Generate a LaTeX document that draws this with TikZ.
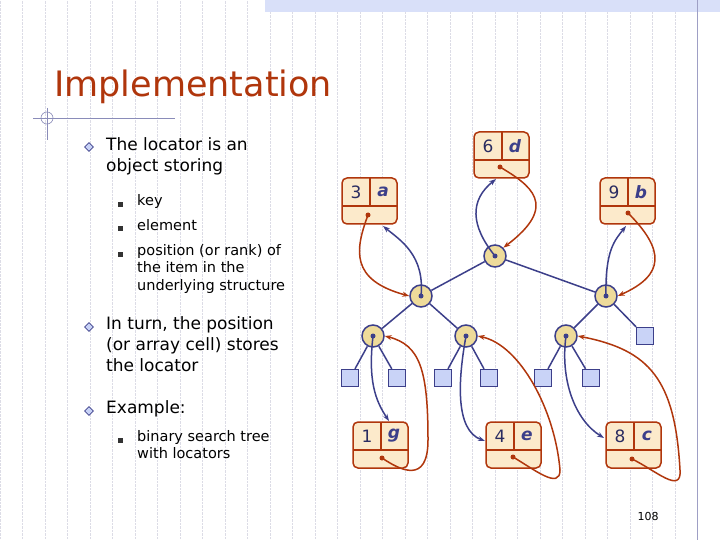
\documentclass[tikz,border=0pt]{standalone}
\usepackage{fontspec}
\setmainfont{DejaVu Sans}
\setsansfont{DejaVu Sans}
\usetikzlibrary{arrows.meta,shapes.geometric}
\definecolor{tblue}{HTML}{3C3F8A}
\definecolor{tred}{HTML}{B0360C}
\definecolor{nfill}{HTML}{EEDB9A}
\definecolor{lfill}{HTML}{FCEACB}
\definecolor{sfill}{HTML}{C9D3F7}
\definecolor{gridc}{HTML}{DCDCE6}
\begin{document}
\begin{tikzpicture}[x=1pt,y=-1pt,
  inode/.style={circle,draw=tblue,line width=1.5pt,fill=nfill,minimum size=22pt,inner sep=0pt},
  leaf/.style={rectangle,draw=tblue,line width=1.3pt,fill=sfill,minimum size=17pt,inner sep=0pt},
  edge/.style={draw=tblue,line width=1.5pt},
  bptr/.style={draw=tblue,line width=1.5pt,-{Stealth[length=7pt,width=5pt]}},
  rptr/.style={draw=tred,line width=1.5pt,-{Stealth[length=7pt,width=5pt]}},
  dot/.style={circle,fill=#1,inner sep=0pt,minimum size=5pt},
  txt/.style={font=\fontsize{17}{21}\selectfont,text=black,align=left,anchor=north west,inner sep=0pt},
  sub/.style={font=\fontsize{14.5}{17.5}\selectfont,text=black,align=left,anchor=north west,inner sep=0pt},
  dia/.style={diamond,draw=tblue,fill=sfill,inner sep=0pt,minimum size=9pt,line width=0.6pt},
  sq/.style={rectangle,fill=black!80,inner sep=0pt,minimum size=5pt}]
\useasboundingbox (0,0) rectangle (720,540);
\fill[white] (0,0) rectangle (720,540);
\draw[gridc,densely dotted,line width=0.4pt,step=22.5] (0,0) grid (720,540);
\fill[sfill!70] (265,0) rectangle (720,12);
\draw[tblue!50,line width=0.8pt] (697,0) -- (697,540);
\draw[tblue!60,line width=0.8pt] (33,118) -- (175,118);
\draw[tblue!60,line width=0.8pt] (47,108) -- (47,140);
\node[circle,draw=tblue!60,line width=0.6pt,minimum size=12pt,inner sep=0pt] (c0) at (47,118) {};
% title
\node[anchor=west,text=tred,font=\fontsize{35}{40}\selectfont,inner sep=0pt] (title) at (54,87) {Implementation};
% left text
\node[dia] (d1) at (89,147) {};
\node[txt] (t1) at (106,137) {The locator is an\\object storing};
\node[sq] (s1) at (120,205) {};
\node[sq] (s2) at (120,229) {};
\node[sq] (s3) at (120,254) {};
\node[sub] (u1) at (137,194) {key};
\node[sub] (u2) at (137,219) {element};
\node[sub] (u3) at (137,244) {position (or rank) of\\the item in the\\underlying structure};
\node[dia] (d2) at (89,327) {};
\node[txt] (t2) at (106,316) {In turn, the position\\(or array cell) stores\\the locator};
\node[dia] (d3) at (89,411) {};
\node[txt] (t3) at (106,400) {Example:};
\node[sq] (s4) at (120,440) {};
\node[sub] (u4) at (137,430) {binary search tree\\with locators};
\node[font=\fontsize{11}{13}\selectfont,inner sep=0pt] (pg) at (648,516) {108};
% tree nodes
\node[inode] (r) at (495,256) {};
\node[inode] (nl) at (421,296) {};
\node[inode] (nr) at (606,296) {};
\node[inode] (a) at (373,336) {};
\node[inode] (b) at (466,336) {};
\node[inode] (c) at (566,336) {};
\node[leaf] (sx) at (645,336) {};
\node[leaf] (l1) at (350,378) {};
\node[leaf] (l2) at (397,378) {};
\node[leaf] (l3) at (443,378) {};
\node[leaf] (l4) at (489,378) {};
\node[leaf] (l5) at (543,378) {};
\node[leaf] (l6) at (591,378) {};
\draw[edge] (r) -- (nl); \draw[edge] (r) -- (nr);
\draw[edge] (nl) -- (a); \draw[edge] (nl) -- (b);
\draw[edge] (nr) -- (c); \draw[edge] (nr) -- (sx);
\draw[edge] (a) -- (l1); \draw[edge] (a) -- (l2);
\draw[edge] (b) -- (l3); \draw[edge] (b) -- (l4);
\draw[edge] (c) -- (l5); \draw[edge] (c) -- (l6);
% locator boxes
\newcommand{\locbox}[4]{%
  \draw[tred,line width=1.5pt,fill=lfill,rounded corners=5pt] (#1,#2) rectangle ++(55,46);
  \draw[tred,line width=1.5pt] (#1,#2+28) -- ++(55,0) (#1+28,#2) -- ++(0,28);
  \node[font=\fontsize{17}{17}\selectfont\rmfamily,text=tblue!70!black] at (#1+14,#2+14) {#3};
  \node[font=\fontsize{17}{17}\selectfont\bfseries\itshape,text=tblue] at (#1+41,#2+14) {#4};}
\locbox{474}{132}{6}{d}
\locbox{342}{178}{3}{a}
\locbox{600}{178}{9}{b}
\locbox{353}{422}{1}{g}
\locbox{486}{422}{4}{e}
\locbox{606}{422}{8}{c}
% pointers: named coordinates
\coordinate (pd) at (500,167); \coordinate (pdt) at (496,179);
\coordinate (pa) at (368,215); \coordinate (pat) at (383,226);
\coordinate (pb) at (628,213); \coordinate (pbt) at (626,226);
\coordinate (pg1) at (382,458); \coordinate (pgt) at (389,421);
\coordinate (pe) at (513,457); \coordinate (pet) at (485,441);
\coordinate (pc) at (632,459); \coordinate (pct) at (604,438);
\foreach \p in {pd,pa,pb,pg1,pe,pc} \node[dot=tred] at (\p) {};
\foreach \p in {r,nl,nr,a,b,c} \node[dot=tblue] at (\p.center) {};
% root / d
\draw[bptr] (r.center) .. controls (470,225) and (470,200) .. (pdt);
\draw[rptr] (pd) .. controls (530,185) and (560,205) .. (r.north east);
% a
\draw[bptr] (nl.center) .. controls (425,255) and (400,240) .. (pat);
\draw[rptr] (pa) .. controls (355,250) and (350,280) .. (nl.west);
% b
\draw[bptr] (nr.center) .. controls (605,250) and (615,240) .. (pbt);
\draw[rptr] (pb) .. controls (665,250) and (665,275) .. (nr.east);
% g
\draw[bptr] (a.center) .. controls (368,380) and (375,400) .. (pgt);
\draw[rptr] (pg1) .. controls (400,470) and (428,485) .. (428,440) .. controls (428,370) and (420,345) .. (a.east);
% e
\draw[bptr] (b.center) .. controls (458,380) and (455,430) .. (pet);
\draw[rptr] (pe) .. controls (535,470) and (560,490) .. (560,470) .. controls (555,410) and (520,345) .. (b.east);
% c
\draw[bptr] (c.center) .. controls (560,380) and (575,420) .. (pct);
\draw[rptr] (pc) .. controls (655,470) and (682,495) .. (680,470) .. controls (675,380) and (650,350) .. (c.east);
\end{tikzpicture}
\end{document}
